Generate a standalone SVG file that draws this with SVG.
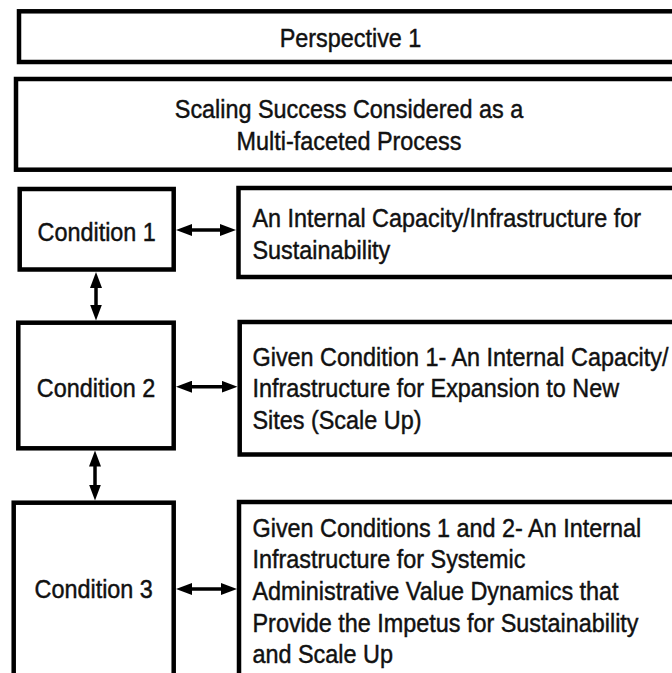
<svg xmlns="http://www.w3.org/2000/svg" width="672" height="673" viewBox="0 0 672 673">
<style>
.box{fill:#fff;stroke:#000;stroke-width:4.5}
.t{font-family:"Liberation Sans",Arial,sans-serif;font-size:26px;fill:#111;stroke:#111;stroke-width:0.45}
.c{text-anchor:middle}
.con{stroke:#000;stroke-width:3.5;fill:none;marker-start:url(#ah);marker-end:url(#ah)}
</style>
<defs>
<marker id="ah" markerUnits="userSpaceOnUse" markerWidth="16" markerHeight="12" refX="8" refY="6" orient="auto-start-reverse" viewBox="0 0 16 12">
<path d="M0,0 L16,6 L0,12 z" fill="#000"/>
</marker>
</defs>
<rect width="672" height="673" fill="#fff"/>
<g id="perspective">
<rect class="box" x="19" y="11.3" width="700" height="50.7"/>
<text class="t c" transform="translate(350.5 46.5) scale(0.9 1)">Perspective 1</text>
</g>
<g id="scaling">
<rect class="box" x="16" y="79" width="700" height="90.7"/>
<text class="t c" transform="translate(349 118) scale(0.9 1)"><tspan x="0" y="0">Scaling Success Considered as a</tspan><tspan x="0" y="31.7">Multi-faceted Process</tspan></text>
</g>
<g id="condition1">
<rect class="box" x="19.7" y="189" width="154" height="80.5"/>
<text class="t c" transform="translate(96.7 240.5) scale(0.9 1)">Condition 1</text>
</g>
<g id="desc1">
<rect class="box" x="238.5" y="188" width="480" height="89"/>
<text class="t" transform="translate(252.5 227) scale(0.9 1)"><tspan x="0" y="0">An Internal Capacity/Infrastructure for</tspan><tspan x="0" y="31.7">Sustainability</tspan></text>
</g>
<g id="condition2">
<rect class="box" x="18.3" y="322.7" width="155.4" height="125.6"/>
<text class="t c" transform="translate(96 396.5) scale(0.9 1)">Condition 2</text>
</g>
<g id="desc2">
<rect class="box" x="239.7" y="322" width="480" height="132.5"/>
<text class="t" transform="translate(252.5 365.6) scale(0.9 1)"><tspan x="0" y="0">Given Condition 1- An Internal Capacity/</tspan><tspan x="0" y="31.7">Infrastructure for Expansion to New</tspan><tspan x="0" y="63.4">Sites (Scale Up)</tspan></text>
</g>
<g id="condition3">
<rect class="box" x="13.7" y="502.7" width="160" height="200"/>
<text class="t c" transform="translate(93.7 598) scale(0.9 1)">Condition 3</text>
</g>
<g id="desc3">
<rect class="box" x="239" y="502" width="480" height="200"/>
<text class="t" transform="translate(252.5 536.7) scale(0.9 1)"><tspan x="0" y="0">Given Conditions 1 and 2- An Internal</tspan><tspan x="0" y="31.7">Infrastructure for Systemic</tspan><tspan x="0" y="63.4">Administrative Value Dynamics that</tspan><tspan x="0" y="95.1">Provide the Impetus for Sustainability</tspan><tspan x="0" y="126.8">and Scale Up</tspan></text>
</g>
<g id="connectors">
<line class="con" x1="184" y1="230" x2="228" y2="230"/>
<line class="con" x1="184" y1="386.7" x2="229.5" y2="386.7"/>
<line class="con" x1="184" y1="589" x2="229" y2="589"/>
<line class="con" x1="96" y1="280" x2="96" y2="312.5"/>
<line class="con" x1="95" y1="458.5" x2="95" y2="492.5"/>
</g>
</svg>
